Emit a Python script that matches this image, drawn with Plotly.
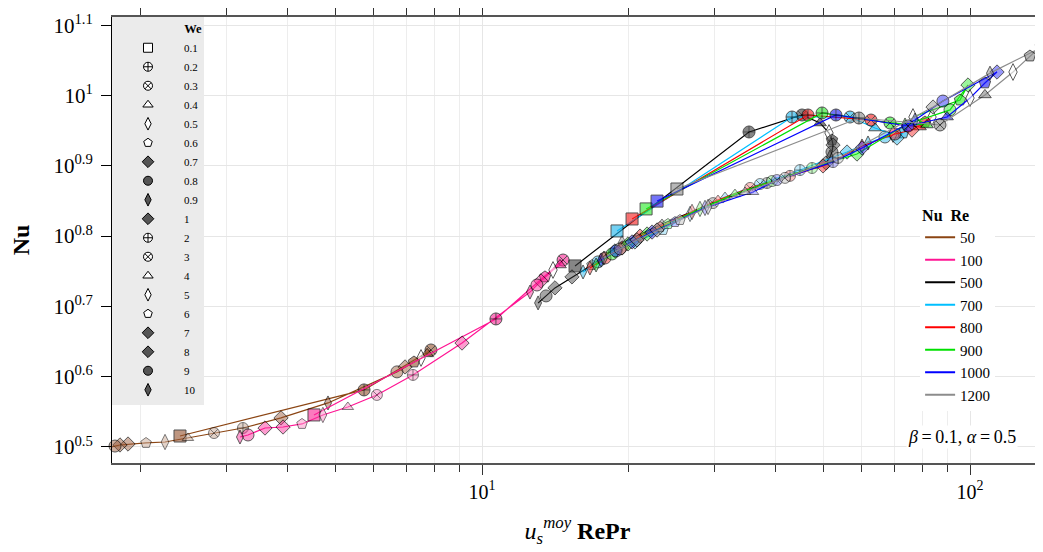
import plotly.graph_objects as go

# ---------------- data ----------------
we_values = [0.1, 0.2, 0.3, 0.4, 0.5, 0.6, 0.7, 0.8, 0.9, 1, 2, 3, 4, 5, 6, 7, 8, 9, 10]
we_labels = ["0.1", "0.2", "0.3", "0.4", "0.5", "0.6", "0.7", "0.8", "0.9",
             "1", "2", "3", "4", "5", "6", "7", "8", "9", "10"]
re_values = [50, 100, 500, 700, 800, 900, 1000, 1200]

# x = u_s^moy RePr, y = Nu ; one value per We (same order as we_values)
x_re50 = [2.405, 5.732, 7.86, 7.72, 7.50, 7.255, 6.955, 6.695, 4.835, 3.874,
          3.237, 2.824, 2.497, 2.241, 2.049, 1.882, 1.812, 1.770, 1.745]
nu_re50 = [3.278, 3.812, 4.345, 4.29, 4.233, 4.177, 4.11, 4.044, 3.653, 3.478,
           3.365, 3.31, 3.257, 3.214, 3.204, 3.193, 3.183, 3.172, 3.162]

x_re100 = [4.526, 10.68, 14.66, 14.45, 13.98, 13.46, 13.21, 12.96, 12.54, 9.10,
           7.22, 6.09, 5.31, 4.72, 4.277, 3.911, 3.592, 3.315, 3.192]
nu_re100 = [3.512, 4.81, 5.834, 5.74, 5.647, 5.52, 5.446, 5.376, 5.253, 4.445,
            4.004, 3.75, 3.605, 3.512, 3.41, 3.376, 3.365, 3.289, 3.267]

x_re500 = [15.51, 35.25, 45.27, 49.28, 51.41, 52.14, 52.4, 52.14, 51.65, 50.69,
           38.37, 29.74, 23.38, 19.36, 16.8, 15.29, 14.11, 13.53, 13.03]
nu_re500 = [5.722, 8.874, 9.382, 9.14, 8.845, 8.644, 8.504, 8.31, 8.175, 8.017,
            7.508, 7.03, 6.565, 6.17, 5.74, 5.52, 5.325, 5.187, 5.069]

x_re700 = [18.91, 43.18, 56.77, 63.87, 69.54, 72.9, 70.86, 66.95, 61.8, 55.98,
           44.84, 37.13, 31.48, 26.69, 23.49, 20.58, 18.73, 17.29, 16.11]
nu_re700 = [6.417, 9.32, 9.32, 8.99, 8.815, 8.845, 8.70, 8.73, 8.56, 8.31,
            7.834, 7.483, 7.17, 6.785, 6.437, 6.19, 6.01, 5.798, 5.61]

x_re800 = [20.3, 46.56, 62.68, 78.98, 83.58, 80.87, 76.05, 70.2, 60.08, 49.98,
           42.77, 35.43, 30.45, 26.94, 23.16, 21.08, 19.36, 17.87, 16.64]
nu_re800 = [6.674, 9.382, 9.228, 9.02, 9.32, 9.17, 8.93, 8.815, 8.476, 7.94,
            7.686, 7.388, 7.10, 6.83, 6.50, 6.31, 6.07, 5.873, 5.684]

x_re900 = [21.69, 49.75, 68.57, 81.64, 76.41, 95.4, 99.06, 91.0, 73.6, 58.67,
           47.46, 39.29, 32.99, 27.97, 24.05, 21.79, 19.92, 18.47, 17.13]
nu_re900 = [6.897, 9.444, 9.14, 9.08, 9.32, 9.854, 10.35, 9.54, 9.08, 8.256,
            7.886, 7.557, 7.24, 6.897, 6.565, 6.353, 6.15, 5.951, 5.74]

x_re1000 = [22.84, 53.13, 74.64, 89.74, 100.0, 107.3, 113.6, 88.0, 77.14, 60.08,
            52.4, 40.22, 35.93, 28.64, 24.86, 22.31, 20.3, 18.82, 17.54]
nu_re1000 = [7.076, 9.382, 9.05, 9.32, 9.917, 10.42, 10.80, 9.82, 9.228, 8.42,
             8.04, 7.581, 7.29, 6.92, 6.607, 6.394, 6.19, 6.01, 5.834]

x_re1200 = [25.09, 59.22, 86.8, 107.3, 122.5, 132.7, 140.5, 152.9, 109.9, 84.0,
            53.64, 41.77, 34.59, 29.05, 25.45, 22.84, 20.78, 19.18, 17.78]
nu_re1200 = [7.362, 9.29, 9.08, 10.02, 10.80, 11.38, 11.8, 12.07, 10.76, 9.63,
             8.15, 7.635, 7.29, 6.942, 6.651, 6.437, 6.231, 6.05, 5.873]

series_x = [x_re50, x_re100, x_re500, x_re700, x_re800, x_re900, x_re1000, x_re1200]
series_nu = [nu_re50, nu_re100, nu_re500, nu_re700, nu_re800, nu_re900, nu_re1000, nu_re1200]

y_tick_vals = [10 ** 0.5, 10 ** 0.6, 10 ** 0.7, 10 ** 0.8, 10 ** 0.9, 10 ** 1.0, 10 ** 1.1]
y_tick_text = ["10<sup>0.5</sup>", "10<sup>0.6</sup>", "10<sup>0.7</sup>", "10<sup>0.8</sup>",
               "10<sup>0.9</sup>", "10<sup>1</sup>", "10<sup>1.1</sup>"]
x_tick_vals = [10, 100]
x_tick_text = ["10<sup>1</sup>", "10<sup>2</sup>"]
x_minor_vals = [2, 3, 4, 5, 6, 7, 8, 9, 20, 30, 40, 50, 60, 70, 80, 90]

# ---------------- styles ----------------
line_colors = ["#8B4513", "#FF1493", "#000000", "#00BFFF", "#FF0000", "#00E000", "#0000FF", "#8C8C8C"]
marker_rgb = [(150, 85, 50), (250, 40, 150), (60, 60, 60), (30, 180, 235),
              (245, 30, 30), (40, 235, 40), (30, 30, 245), (140, 140, 140)]
symbols = ["square", "circle-cross", "circle-x", "triangle-up", "diamond-tall", "pentagon",
           "diamond", "circle", "diamond-tall", "diamond",
           "circle-cross", "circle-x", "triangle-up", "diamond-tall", "pentagon",
           "diamond", "diamond", "circle", "diamond-tall"]
kinds = ["full", "full", "full", "full", "open", "full",
         "half", "half", "half", "half",
         "partial", "partial", "partial", "partial", "partial",
         "half", "half", "half", "half"]
sizes = [12, 12, 12, 11, 12, 12, 11, 12, 10, 11, 11, 11, 10, 11, 11, 11, 11, 12, 10]

FONT = "Liberation Serif"
# the page body adds an 8 px offset: margins compensate so the plot area lands at
# x 112..1043, y 17..463 of the window
OFF = 8

fig = go.Figure()

for i, re in enumerate(re_values):
    r, g, b = marker_rgb[i]
    fills, outlines = [], []
    for k in kinds:
        if k == "full":
            fills.append(f"rgba({r},{g},{b},0.88)")
            outlines.append("rgba(0,0,0,0.95)")
        elif k == "half":
            fills.append(f"rgba({r},{g},{b},0.65)")
            outlines.append("rgba(0,0,0,0.9)")
        elif k == "open":
            fills.append("rgba(255,255,255,0.85)")
            outlines.append("rgba(0,0,0,0.9)")
        else:
            fills.append(f"rgba({int((r+255)/2)},{int((g+255)/2)},{int((b+255)/2)},0.75)")
            outlines.append("rgba(0,0,0,0.7)")
    fig.add_trace(go.Scatter(
        x=series_x[i], y=series_nu[i], mode="lines+markers",
        line=dict(color=line_colors[i], width=1.2),
        marker=dict(symbol=symbols, size=sizes, color=fills,
                    line=dict(color=outlines, width=1)),
        cliponaxis=False, showlegend=False, hoverinfo="skip"))

# We legend (marker shapes)
for j, lab in enumerate(we_labels):
    k = kinds[j]
    fill = "#555555" if k == "half" else "white"
    fig.add_trace(go.Scatter(
        x=[None], y=[None], mode="markers", name=lab, legend="legend",
        marker=dict(symbol=symbols[j], size=9, color=fill,
                    line=dict(color="black", width=1))))

# Re legend (line colours)
for i, re in enumerate(re_values):
    fig.add_trace(go.Scatter(
        x=[None], y=[None], mode="lines", name=str(re), legend="legend2",
        line=dict(color=line_colors[i], width=2)))

fig.update_layout(
    width=1043, height=552,
    margin=dict(l=112 - OFF, r=OFF, t=17 - OFF, b=89 + OFF, autoexpand=False),
    paper_bgcolor="white", plot_bgcolor="white",
    font=dict(family=FONT, size=16, color="black"),
    legend=dict(x=0, y=1, xanchor="left", yanchor="top", bgcolor="#EBEBEB",
                font=dict(size=11, family=FONT), itemwidth=62,
                title=dict(text="<b>We</b>", side="top right", font=dict(size=12.5, family=FONT)),
                tracegroupgap=0),
    legend2=dict(x=0.868, y=0.589, xanchor="left", yanchor="top", bgcolor="white",
                 font=dict(size=15, family=FONT), itemwidth=30,
                 title=dict(text="<b>Nu  Re</b>", font=dict(size=16, family=FONT))),
    annotations=[dict(text="<i>β</i>\u2009=\u20090.1, <i>α</i>\u2009=\u20090.5",
                      xref="paper", yref="paper",
                      x=0.973, y=0.058, xanchor="right", yanchor="middle", showarrow=False,
                      bgcolor="white", font=dict(size=18, family=FONT))],
)

fig.update_xaxes(
    type="log", range=[0.2418, 2.1496], automargin=False,
    tickvals=x_tick_vals, ticktext=x_tick_text,
    ticks="outside", ticklen=10, tickcolor="#333", tickwidth=1,
    showline=True, linecolor="#555", linewidth=1.5, mirror="ticks",
    showgrid=True, gridcolor="#E6E6E6", gridwidth=1.2,
    minor=dict(tickvals=x_minor_vals, ticks="outside", ticklen=7, tickcolor="#333",
               showgrid=True, gridcolor="#EDEDED", gridwidth=1),
    tickfont=dict(size=20, family=FONT),
    title=dict(text="<i>u</i><sub><i>s</i></sub><sup><i>moy</i></sup> <b>RePr</b>",
               font=dict(size=24, family=FONT), standoff=20),
    zeroline=False)

fig.update_yaxes(
    type="log", range=[0.4772, 1.1117], automargin=False,
    tickvals=y_tick_vals, ticktext=y_tick_text,
    ticks="outside", ticklen=10, tickcolor="black",
    showline=True, linecolor="black", linewidth=1, mirror=True,
    showgrid=True, gridcolor="#E6E6E6", gridwidth=1.2,
    tickfont=dict(size=21, family=FONT), ticklabelstandoff=4,
    title=dict(text="<b>Nu</b>", font=dict(size=24, family=FONT), standoff=20),
    zeroline=False)

fig.write_html("out.html")
